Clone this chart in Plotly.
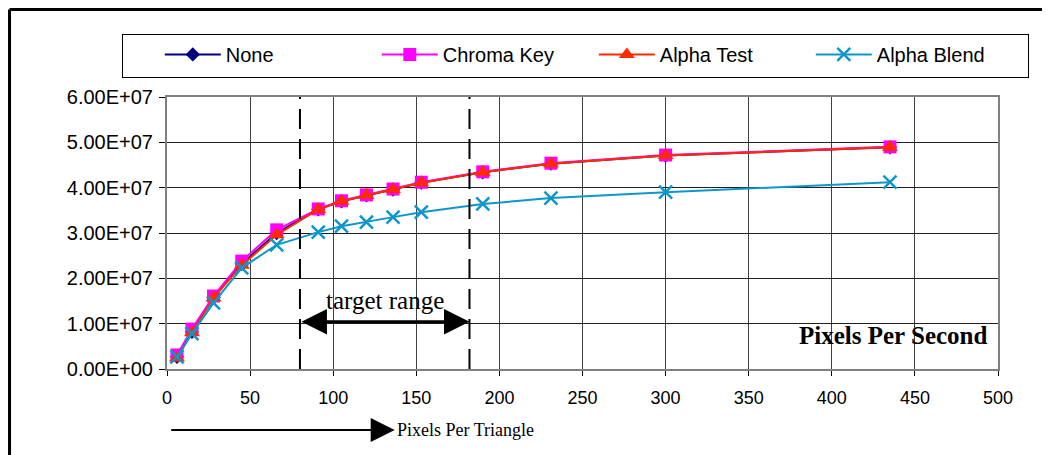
import plotly.graph_objects as go

# pixels per triangle
ppt = [6, 15, 28, 45, 66, 91, 105, 120, 136, 153, 190, 231, 300, 435]

none_v = [2.7e6, 8.2e6, 1.58e7, 2.32e7, 3.00e7, 3.52e7, 3.70e7, 3.83e7, 3.96e7, 4.11e7, 4.34e7, 4.53e7, 4.71e7, 4.89e7]
chroma_v = [3.1e6, 8.8e6, 1.61e7, 2.38e7, 3.07e7, 3.53e7, 3.71e7, 3.84e7, 3.97e7, 4.12e7, 4.35e7, 4.54e7, 4.72e7, 4.90e7]
atest_v = [2.4e6, 8.0e6, 1.57e7, 2.29e7, 2.96e7, 3.52e7, 3.70e7, 3.83e7, 3.96e7, 4.11e7, 4.34e7, 4.53e7, 4.71e7, 4.89e7]
ablend_v = [2.7e6, 7.8e6, 1.46e7, 2.23e7, 2.74e7, 3.02e7, 3.15e7, 3.24e7, 3.35e7, 3.46e7, 3.64e7, 3.77e7, 3.90e7, 4.12e7]

ytick_vals = [0, 1e7, 2e7, 3e7, 4e7, 5e7, 6e7]
ytick_text = ["0.00E+00", "1.00E+07", "2.00E+07", "3.00E+07", "4.00E+07", "5.00E+07", "6.00E+07"]

target_lo, target_hi = 80, 182

sans = "Arial, Liberation Sans, sans-serif"
serif = "Times New Roman, Liberation Serif, serif"

fig = go.Figure()
fig.add_trace(go.Scatter(x=ppt, y=none_v, name="None", mode="lines+markers",
                         line=dict(color="#000080", width=2),
                         marker=dict(symbol="diamond", size=11, color="#000080")))
fig.add_trace(go.Scatter(x=ppt, y=chroma_v, name="Chroma Key", mode="lines+markers",
                         line=dict(color="#FF00FF", width=2),
                         marker=dict(symbol="square", size=13, color="#FF00FF")))
fig.add_trace(go.Scatter(x=ppt, y=atest_v, name="Alpha Test", mode="lines+markers",
                         line=dict(color="#FF2A00", width=2),
                         marker=dict(symbol="triangle-up", size=14, color="#FF2A00")))
fig.add_trace(go.Scatter(x=ppt, y=ablend_v, name="Alpha Blend", mode="lines+markers",
                         line=dict(color="#0E96CC", width=2),
                         marker=dict(symbol="x-thin", size=13, color="#0E96CC",
                                     line=dict(color="#0E96CC", width=2.5))))

# target range markers
for xv in (target_lo, target_hi):
    fig.add_shape(type="line", x0=xv, x1=xv, y0=0, y1=6e7, xref="x", yref="y",
                  line=dict(color="black", width=2, dash="20px,10px"))

fig.add_annotation(x=target_hi, y=1.04e7, ax=target_lo, ay=1.04e7, axref="x", ayref="y",
                   xref="x", yref="y", text="", showarrow=True, arrowhead=2,
                   arrowside="end+start", arrowwidth=3, arrowsize=1.7, arrowcolor="black")
fig.add_annotation(x=(target_lo + target_hi) / 2, y=1.52e7, text="target range",
                   showarrow=False, font=dict(family=serif, size=25, color="black"))
fig.add_annotation(x=0.99, y=0.066, xref="paper", yref="paper", xanchor="right",
                   text="<b>Pixels Per Second</b>", showarrow=False,
                   font=dict(family=serif, size=25, color="black"))

# x-axis direction arrow
fig.add_annotation(x=0.274, y=-0.224, xref="paper", yref="paper", ax=-225, ay=0,
                   text="", showarrow=True, arrowhead=2, arrowwidth=2, arrowsize=2.4,
                   arrowcolor="black")
fig.add_annotation(x=0.274, y=-0.224, xref="paper", yref="paper", xanchor="left", yanchor="middle",
                   text="Pixels Per Triangle", showarrow=False,
                   font=dict(family=serif, size=18, color="black"))

# outer frame (left and top edges)
fig.add_shape(type="line", xref="paper", yref="paper", x0=-0.1895, x1=-0.1895, y0=-0.33, y1=1.3216,
              line=dict(color="black", width=3))
fig.add_shape(type="line", xref="paper", yref="paper", x0=-0.1895, x1=1.07, y0=1.3216, y1=1.3216,
              line=dict(color="black", width=3))

# the page body adds an 8px offset, so the figure is 8px smaller than the window
fig.update_layout(
    width=1042, height=447,
    margin=dict(l=159, r=52, t=89, b=86, autoexpand=False),
    paper_bgcolor="white", plot_bgcolor="white",
    font=dict(family=sans, size=20, color="black"),
    showlegend=True,
    legend=dict(orientation="h", x=-0.054, y=1.232, xanchor="left", yanchor="top",
                bordercolor="black", borderwidth=1, bgcolor="white",
                font=dict(family=sans, size=20), itemwidth=56,
                entrywidth=146, entrywidthmode="pixels",
                title=dict(text="\u00a0" * 4, side="left")),
)
fig.update_xaxes(range=[0, 500], dtick=50, tick0=0, showgrid=True, gridcolor="#404040", gridwidth=1,
                 showline=True, linecolor="#808080", linewidth=2, mirror=True,
                 ticks="outside", ticklen=5, tickcolor="black", zeroline=False,
                 tickfont=dict(family=sans, size=18), ticklabelstandoff=6)
fig.update_yaxes(range=[0, 6e7], tickvals=ytick_vals, ticktext=ytick_text,
                 showgrid=True, gridcolor="#202020", gridwidth=1,
                 showline=True, linecolor="#808080", linewidth=2, mirror=True,
                 ticks="outside", ticklen=6, tickcolor="black", zeroline=False,
                 tickfont=dict(family=sans, size=20), ticklabelstandoff=2)

fig.write_html("out.html")
